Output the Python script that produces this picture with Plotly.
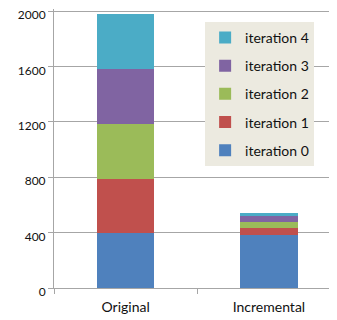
import plotly.graph_objects as go

categories = ["Original", "Incremental"]
series_names = ["iteration 0", "iteration 1", "iteration 2", "iteration 3", "iteration 4"]
iter0 = [395, 385]
iter1 = [395, 50]
iter2 = [397, 45]
iter3 = [397, 37]
iter4 = [395, 23]
colors = ["#4F81BD", "#C0504D", "#9BBB59", "#8064A2", "#4BACC6"]
y_ticks = [0, 400, 800, 1200, 1600, 2000]

fig = go.Figure()
all_vals = [iter0, iter1, iter2, iter3, iter4]
for i, (name, vals) in enumerate(zip(series_names, all_vals)):
    fig.add_trace(go.Bar(x=categories, y=vals, name=name, marker_color=colors[i],
                         marker_line_width=0, legendgroup=name,
                         legendrank=len(series_names) - i))

fig.update_layout(
    barmode="stack",
    bargap=0.6,
    width=329, height=312,
    margin=dict(l=46, r=0, t=1, b=32, autoexpand=False),
    paper_bgcolor="white", plot_bgcolor="white",
    font=dict(family="Lato, 'Open Sans', sans-serif", size=13, color="#111"),
    showlegend=True,
    legend=dict(x=0.534, y=0.954, xanchor="left", yanchor="top",
                bgcolor="#ECEAE0", traceorder="grouped", tracegroupgap=7,
                font=dict(size=14), itemwidth=30),
    yaxis=dict(range=[0, 2014.5], tickvals=y_ticks, showgrid=True, gridcolor="#A6A6A6",
               gridwidth=1, showline=True, linecolor="#A6A6A6", ticks="outside",
               ticklen=5, tickcolor="#A6A6A6", zeroline=False, automargin=False,
               ticklabeloverflow="allow", ticklabelshift=4, tickfont=dict(size=12)),
    xaxis=dict(range=[-0.5, 1.475], showline=True, linecolor="#A6A6A6", ticks="outside",
               tickson="boundaries", automargin=False, ticklabelstandoff=6,
               ticklen=5, tickcolor="#A6A6A6", tickfont=dict(size=14)),
)

fig.write_html("out.html")
